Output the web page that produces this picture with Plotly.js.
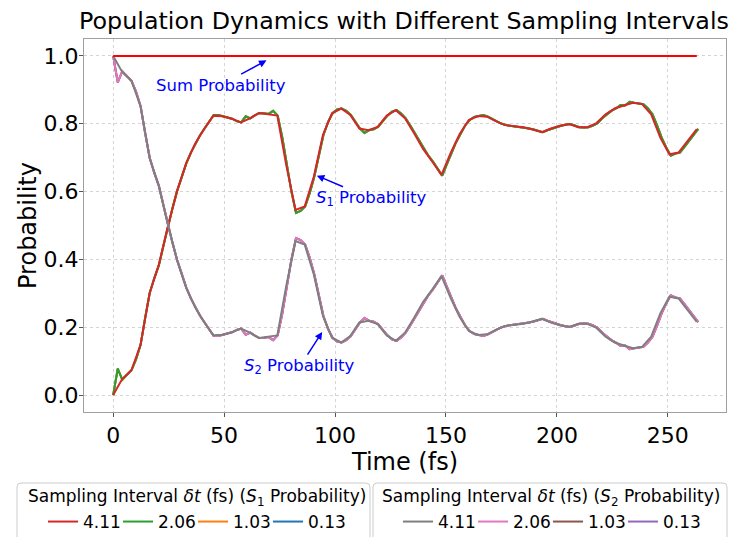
<!DOCTYPE html>
<html>
<head>
<meta charset="utf-8">
<script src="https://cdn.plot.ly/plotly-3.0.1.min.js"></script>
<style>html,body{margin:0;padding:0;background:#fff;}#chart{width:736px;height:537px;}</style>
</head>
<body>
<div id="chart"></div>
<script>
// Sampling intervals (fs) and counts
const dtLabels = ['4.11', '2.06', '1.03', '0.13'];
const dt411 = 4.11, n411 = 65;
const dt206 = 2.06, n206 = 129;

// S1 probability, sampled every 4.11 fs
const s1_411 = [0.000,0.048,0.073,0.148,0.301,0.383,0.498,0.602,0.683,0.742,
  0.786,0.824,0.822,0.815,0.804,0.816,0.832,0.829,0.824,0.675,
  0.546,0.556,0.644,0.767,0.831,0.845,0.826,0.786,0.781,0.791,
  0.824,0.840,0.816,0.772,0.725,0.688,0.649,0.713,0.770,0.811,
  0.823,0.821,0.807,0.796,0.793,0.790,0.783,0.775,0.786,0.794,
  0.799,0.790,0.790,0.802,0.828,0.845,0.854,0.862,0.858,0.828,
  0.759,0.710,0.715,0.750,0.784];
// S2 probability, sampled every 4.11 fs
const s2_411 = [1.000,0.952,0.927,0.852,0.699,0.617,0.502,0.398,0.317,0.258,
  0.214,0.176,0.178,0.185,0.196,0.184,0.168,0.171,0.176,0.325,
  0.454,0.444,0.356,0.233,0.169,0.155,0.174,0.214,0.219,0.209,
  0.176,0.160,0.184,0.228,0.275,0.312,0.351,0.287,0.230,0.189,
  0.177,0.179,0.193,0.204,0.207,0.210,0.217,0.225,0.214,0.206,
  0.201,0.210,0.210,0.198,0.172,0.155,0.146,0.138,0.142,0.172,
  0.241,0.290,0.285,0.250,0.216];
// Sum probability (4.11 fs sampling)
const sum_411 = [1,1,1,1,1,1,1,1,1,1,1,1,1,1,1,1,1,1,1,1,1,1,1,1,1,1,1,1,1,1,1,1,
  1,1,1,1,1,1,1,1,1,1,1,1,1,1,1,1,1,1,1,1,1,1,1,1,1,1,1,1,1,1,1,1,1];

// S1 probability, sampled every 2.06 fs
const s1_206 = [0.000,0.078,0.045,0.060,0.073,0.105,0.148,0.228,0.301,0.345,
  0.383,0.440,0.498,0.552,0.602,0.645,0.683,0.715,0.742,0.766,
  0.786,0.808,0.826,0.826,0.822,0.818,0.815,0.808,0.804,0.822,
  0.816,0.825,0.832,0.831,0.829,0.838,0.824,0.760,0.675,0.600,
  0.537,0.543,0.556,0.595,0.644,0.710,0.767,0.805,0.831,0.842,
  0.845,0.838,0.826,0.806,0.786,0.773,0.781,0.784,0.791,0.808,
  0.824,0.836,0.840,0.830,0.816,0.795,0.772,0.748,0.725,0.705,
  0.688,0.667,0.647,0.680,0.713,0.745,0.770,0.795,0.811,0.820,
  0.823,0.826,0.821,0.814,0.807,0.800,0.796,0.794,0.793,0.792,
  0.790,0.786,0.783,0.778,0.775,0.781,0.786,0.791,0.794,0.797,
  0.799,0.795,0.790,0.789,0.790,0.795,0.802,0.816,0.828,0.838,
  0.845,0.855,0.854,0.865,0.862,0.861,0.858,0.845,0.828,0.795,
  0.759,0.730,0.706,0.712,0.715,0.732,0.750,0.767,0.785];
// S2 probability, sampled every 2.06 fs
const s2_206 = [1.000,0.922,0.955,0.940,0.927,0.895,0.852,0.772,0.699,0.655,
  0.617,0.560,0.502,0.448,0.398,0.355,0.317,0.285,0.258,0.234,
  0.214,0.192,0.174,0.174,0.178,0.182,0.185,0.192,0.196,0.178,
  0.184,0.175,0.168,0.169,0.171,0.162,0.176,0.240,0.325,0.400,
  0.463,0.457,0.444,0.405,0.356,0.290,0.233,0.195,0.169,0.158,
  0.155,0.162,0.174,0.194,0.214,0.227,0.219,0.216,0.209,0.192,
  0.176,0.164,0.160,0.170,0.184,0.205,0.228,0.252,0.275,0.295,
  0.312,0.333,0.353,0.320,0.287,0.255,0.230,0.205,0.189,0.180,
  0.177,0.174,0.179,0.186,0.193,0.200,0.204,0.206,0.207,0.208,
  0.210,0.214,0.217,0.222,0.225,0.219,0.214,0.209,0.206,0.203,
  0.201,0.205,0.210,0.211,0.210,0.205,0.198,0.184,0.172,0.162,
  0.155,0.145,0.146,0.135,0.138,0.139,0.142,0.155,0.172,0.205,
  0.241,0.270,0.294,0.288,0.285,0.268,0.250,0.233,0.215];
// Finer samplings (1.03, 0.13 fs) lie under the 2.06 fs curves; read at the same points
const s1_103 = s1_206, s2_103 = s2_206;
const s1_013 = s1_206, s2_013 = s2_206;

const t411 = Array.from({length: n411}, (_, k) => +(k * dt411).toFixed(2));
const t206 = Array.from({length: n206}, (_, k) => +(k * dt206).toFixed(2));

const s1Colors = ['#d62728', '#2ca02c', '#ff7f0e', '#1f77b4'];
const s2Colors = ['#7f7f7f', '#e377c2', '#8c564b', '#9467bd'];
const s1Data = [[t411, s1_411], [t206, s1_206], [t206, s1_103], [t206, s1_013]];
const s2Data = [[t411, s2_411], [t206, s2_206], [t206, s2_103], [t206, s2_013]];

const traces = [];
for (let i = 3; i >= 0; i--) {
  traces.push({x: s1Data[i][0], y: s1Data[i][1], mode: 'lines', name: dtLabels[i],
    line: {color: s1Colors[i], width: 2}, legend: 'legend', legendwidth: i === 3 ? 42 : 30});
}
for (let i = 3; i >= 0; i--) {
  traces.push({x: s2Data[i][0], y: s2Data[i][1], mode: 'lines', name: dtLabels[i],
    line: {color: s2Colors[i], width: 2}, legend: 'legend2', legendwidth: i === 3 ? 42 : 30});
}
traces.push({x: t411, y: sum_411, mode: 'lines', name: 'Sum', showlegend: false,
  line: {color: '#ff0000', width: 2}});

// ---- layout geometry (pixels) ----
const W = 736, H = 537;
const M = {l: 84, r: 10, t: 39, b: 125};
const PW = W - M.l - M.r, PH = H - M.t - M.b;
const px2x = p => (p - M.l) / PW;
const px2y = p => (H - M.b - p) / PH;

function roundedBox(x0, y0, x1, y1, r) {
  const X = v => px2x(v).toFixed(5), Y = v => px2y(v).toFixed(5);
  return `M${X(x0 + r)},${Y(y0)} L${X(x1 - r)},${Y(y0)} Q${X(x1)},${Y(y0)} ${X(x1)},${Y(y0 + r)} ` +
    `L${X(x1)},${Y(y1 - r)} Q${X(x1)},${Y(y1)} ${X(x1 - r)},${Y(y1)} L${X(x0 + r)},${Y(y1)} ` +
    `Q${X(x0)},${Y(y1)} ${X(x0)},${Y(y1 - r)} L${X(x0)},${Y(y0 + r)} Q${X(x0)},${Y(y0)} ${X(x0 + r)},${Y(y0)} Z`;
}

const font = 'DejaVu Sans, sans-serif';
const axisCommon = {
  showline: true, mirror: true, linecolor: '#a0a0a0', linewidth: 1,
  ticks: 'outside', ticklen: 4, tickcolor: '#555', tickwidth: 1,
  gridcolor: '#d4d4d4', griddash: 'dot', gridwidth: 1, zeroline: false,
  tickfont: {size: 22, color: '#000', family: font}
};

const annArrow = {showarrow: true, arrowhead: 2, arrowsize: 1, arrowwidth: 1.5,
  arrowcolor: '#0000ff', axref: 'x', ayref: 'y', xref: 'x', yref: 'y',
  font: {size: 16.5, color: '#0000ff', family: font}};

const legendCommon = {orientation: 'h', traceorder: 'reversed', xanchor: 'center', yanchor: 'middle',
  y: px2y(522), bgcolor: 'rgba(0,0,0,0)', borderwidth: 0, entrywidth: 30, entrywidthmode: 'pixels',
  font: {size: 17, family: font, color: '#000'}};

const layout = {
  width: W, height: H,
  margin: Object.assign({autoexpand: false}, M),
  paper_bgcolor: '#fff', plot_bgcolor: '#fff',
  font: {family: font, color: '#000'},
  title: {text: 'Population Dynamics with Different Sampling Intervals',
    font: {size: 23.8, family: font, color: '#000'},
    x: 404 / W, xanchor: 'center', xref: 'container', y: 1 - 21 / H, yanchor: 'middle', yref: 'container'},
  xaxis: Object.assign({}, axisCommon, {range: [-13.15, 276.2], tickvals: [0, 50, 100, 150, 200, 250],
    title: {text: 'Time (fs)', font: {size: 24, family: font}, standoff: 1}}),
  yaxis: Object.assign({}, axisCommon, {range: [-0.05, 1.05], tickvals: [0, 0.2, 0.4, 0.6, 0.8, 1.0],
    tickformat: '.1f', ticklabelstandoff: -4,
    title: {text: 'Probability', font: {size: 24, family: font}, standoff: 0}}),
  legend: Object.assign({}, legendCommon, {x: px2x(199)}),
  legend2: Object.assign({}, legendCommon, {x: px2x(554)}),
  shapes: [
    {type: 'path', xref: 'paper', yref: 'paper', path: roundedBox(17, 483, 370, 548, 4),
      line: {color: '#cccccc', width: 1}, fillcolor: '#ffffff', layer: 'below'},
    {type: 'path', xref: 'paper', yref: 'paper', path: roundedBox(373, 483, 727, 548, 4),
      line: {color: '#cccccc', width: 1}, fillcolor: '#ffffff', layer: 'below'}
  ],
  annotations: [
    Object.assign({}, annArrow, {text: 'Sum Probability', x: 69.1, y: 0.987, ax: 48.5, ay: 0.914}),
    Object.assign({}, annArrow, {text: '<i>S</i><sub>1</sub> Probability', x: 91.8, y: 0.647, ax: 116.4, ay: 0.579}),
    Object.assign({}, annArrow, {text: '<i>S</i><sub>2</sub> Probability', x: 94.2, y: 0.186, ax: 84.1, ay: 0.084}),
    {text: 'Sampling Interval <i>δt</i> (fs) (<i>S</i><sub>1</sub> Probability)', showarrow: false,
      xref: 'paper', yref: 'paper', x: px2x(196.5), y: px2y(497), xanchor: 'center', yanchor: 'middle',
      font: {size: 17, family: font, color: '#000'}},
    {text: 'Sampling Interval <i>δt</i> (fs) (<i>S</i><sub>2</sub> Probability)', showarrow: false,
      xref: 'paper', yref: 'paper', x: px2x(551), y: px2y(497), xanchor: 'center', yanchor: 'middle',
      font: {size: 17, family: font, color: '#000'}}
  ]
};

Plotly.newPlot('chart', traces, layout, {displayModeBar: false, staticPlot: true});
</script>
</body>
</html>
